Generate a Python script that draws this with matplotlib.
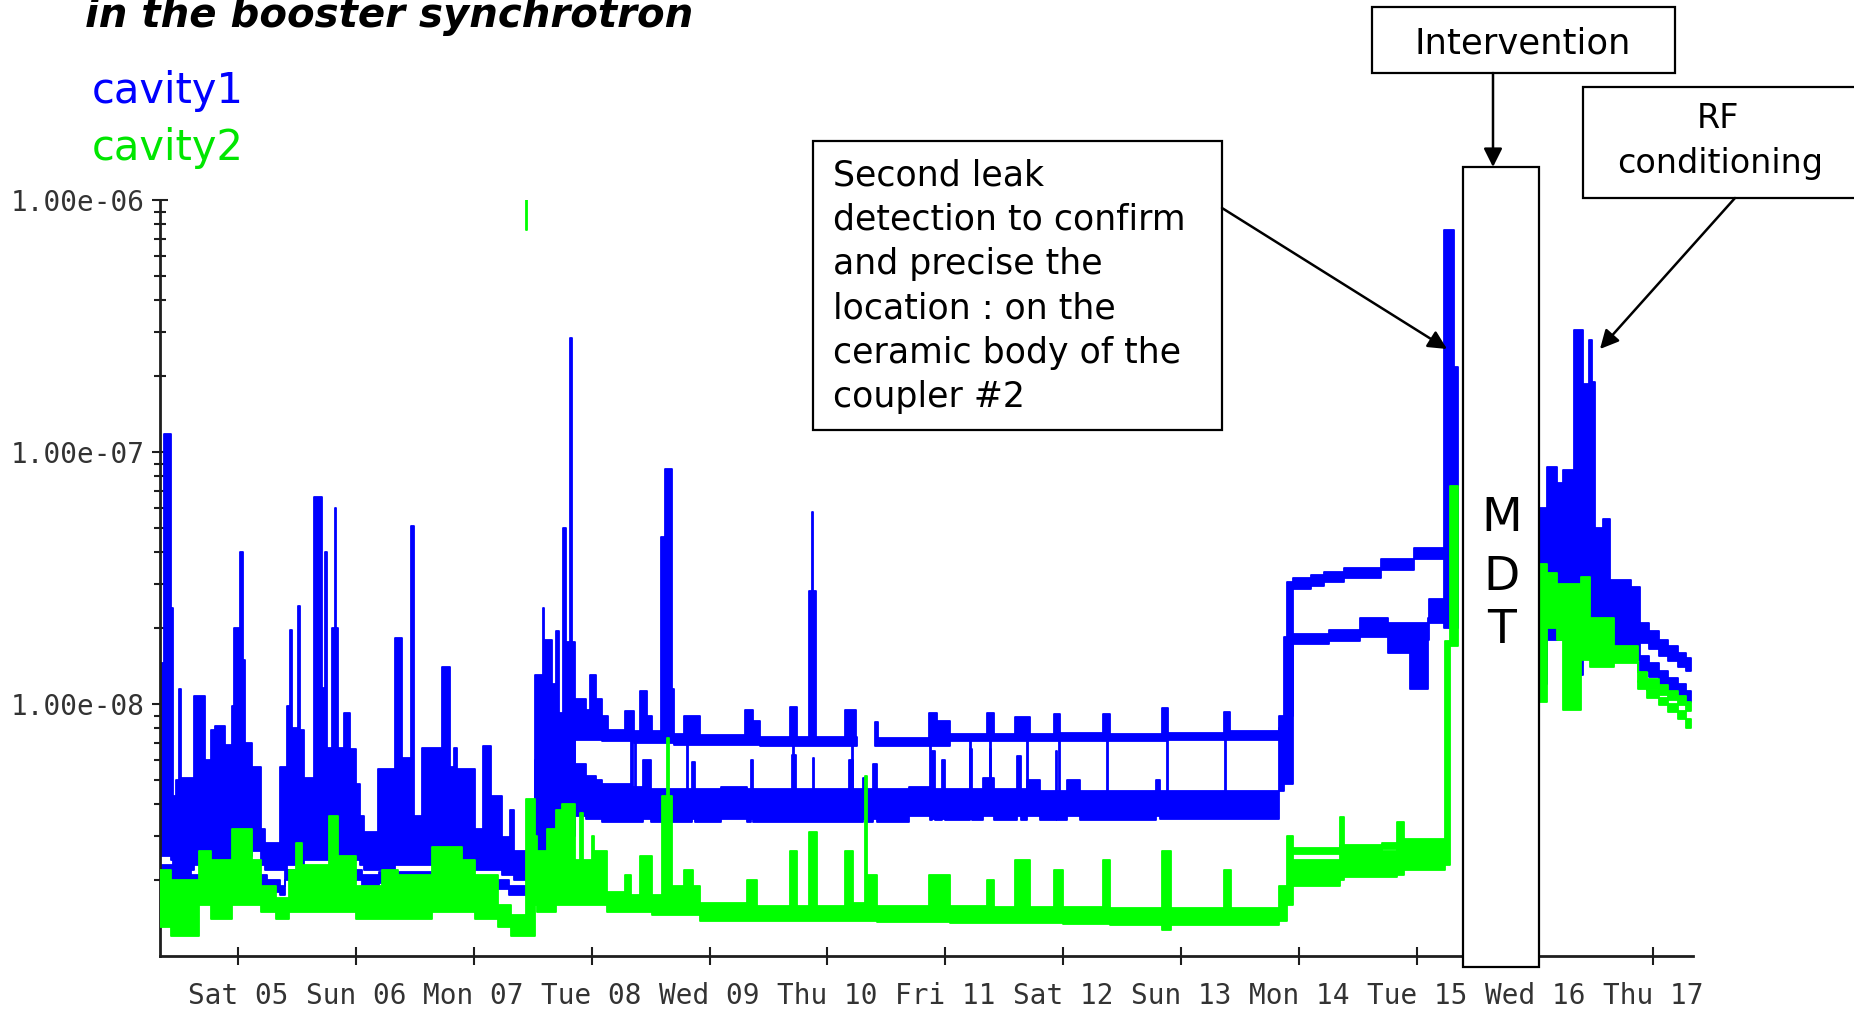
# Vacuum pressure of the booster RF cavities, one week before/after the MDT intervention

import numpy as np
import matplotlib
matplotlib.use('Agg')
import matplotlib.pyplot as plt
from matplotlib.patches import Rectangle
from matplotlib.ticker import FixedLocator, LogLocator, NullFormatter

NAN = float('nan')

# x axis: day of month, labels centred on midnight
day_ticks = [5, 6, 7, 8, 9, 10, 11, 12, 13, 14, 15, 16, 17]
day_labels = ['Sat 05', 'Sun 06', 'Mon 07', 'Tue 08', 'Wed 09', 'Thu 10', 'Fri 11',
              'Sat 12', 'Sun 13', 'Mon 14', 'Tue 15', 'Wed 16', 'Thu 17']

# pressure bands: (day, low, high), in units of 1e-9
# a row holds until the next row, a NaN row ends a stretch
cavity1_upper = [
    (4.34, 2.5, 14.5), (4.37, 2.5, 118), (4.43, 2.4, 24), (4.45, 2.3, 4.3),
    (4.475, 2.3, 5.0), (4.50, 2.3, 11.5), (4.52, 2.2, 5.1), (4.63, 2.3, 10.8),
    (4.72, 2.3, 6.0), (4.77, 2.3, 7.9), (4.81, 2.3, 8.2), (4.89, 2.3, 6.9),
    (4.95, 2.4, 9.8), (4.97, 2.5, 20), (5.02, 2.5, 40), (5.04, 2.5, 15),
    (5.06, 2.5, 7.0), (5.12, 2.6, 5.6), (5.20, 2.3, 3.2), (5.23, 2.2, 2.8),
    (5.36, 2.2, 5.6), (5.42, 2.3, 9.8), (5.44, 2.3, 19.6), (5.46, 2.3, 8.0),
    (5.51, 2.3, 24.4), (5.53, 2.3, 7.9), (5.56, 2.4, 5.1), (5.65, 2.4, 66),
    (5.71, 2.4, 11.6), (5.74, 2.4, 40), (5.76, 2.4, 6.7), (5.80, 2.4, 20),
    (5.82, 2.4, 60), (5.83, 2.4, 20), (5.85, 2.4, 6.7), (5.90, 2.4, 9.2),
    (5.95, 2.4, 6.6), (6.00, 2.4, 4.8), (6.04, 2.3, 3.6), (6.07, 2.2, 3.1),
    (6.19, 2.2, 5.5), (6.33, 2.3, 18.3), (6.39, 2.3, 6.1), (6.47, 2.3, 51),
    (6.49, 2.3, 3.6), (6.56, 2.3, 6.7), (6.73, 2.3, 14), (6.80, 2.3, 5.6),
    (6.83, 2.3, 6.7), (6.86, 2.3, 5.5), (7.01, 2.2, 3.2), (7.08, 2.2, 6.8),
    (7.15, 2.2, 4.3), (7.24, 2.1, 2.96), (7.31, 2.1, 3.8), (7.34, 2.0, 2.6),
    (7.44, 2.0, 2.4), (7.52, 2.5, 13), (7.59, 2.5, 24), (7.60, 2.5, 18),
    (7.66, 2.5, 12), (7.70, 3.2, 19.5), (7.72, 3.2, 9.2), (7.76, 3.2, 50),
    (7.78, 3.2, 17.7), (7.82, 3.2, 283), (7.835, 3.2, 17.7), (7.86, 7.2, 10.5),
    (7.95, 7.2, 9.5), (7.99, 7.2, 13), (8.04, 7.2, 10.5), (8.09, 7.1, 9.0),
    (8.14, 7.1, 7.9), (8.28, 7.1, 9.4), (8.36, 7.0, 7.8), (8.37, 4.5, 7.8),
    (8.38, 7.0, 7.8), (8.41, 7.0, 11.3), (8.47, 7.0, 9.0), (8.51, 7.0, 7.8),
    (8.59, 7.0, 46), (8.62, 7.0, 86), (8.68, 7.0, 11.5), (8.70, 6.9, 7.6),
    (8.78, 6.9, 9.0), (8.81, 4.6, 9.0), (8.82, 6.9, 9.0), (8.92, 6.9, 7.5),
    (9.30, 6.9, 9.5), (9.37, 6.9, 8.6), (9.43, 6.8, 7.4), (9.68, 6.8, 9.7),
    (9.71, 4.5, 9.7), (9.72, 6.8, 9.7), (9.74, 6.8, 7.4), (9.84, 6.8, 28),
    (9.87, 6.8, 58), (9.88, 6.8, 28), (9.90, 6.8, 7.4), (10.15, 6.8, 9.5),
    (10.21, 4.5, 9.5), (10.22, 6.8, 9.5), (10.24, 6.8, 7.4), (10.25, NAN, NAN),
    (10.40, 6.8, 8.5), (10.43, 6.8, 7.3), (10.86, 6.8, 9.2), (10.87, 4.4, 9.2),
    (10.88, 6.8, 9.2), (10.93, 6.8, 8.6), (11.04, 7.1, 7.6), (11.21, 4.4, 7.6),
    (11.22, 7.1, 7.6), (11.35, 7.1, 9.2), (11.38, 4.4, 9.2), (11.39, 7.1, 9.2),
    (11.41, 7.1, 7.6), (11.59, 7.1, 8.9), (11.69, 4.4, 8.9), (11.70, 7.1, 8.9),
    (11.72, 7.1, 7.6), (11.92, 7.1, 9.1), (11.96, 4.4, 9.1), (11.97, 7.1, 7.7),
    (12.34, 7.1, 9.1), (12.37, 4.4, 9.1), (12.38, 7.1, 9.1), (12.40, 7.1, 7.6),
    (12.84, 7.1, 9.6), (12.88, 4.4, 9.6), (12.89, 7.2, 7.7), (13.36, 7.2, 9.3),
    (13.37, 4.4, 9.3), (13.38, 7.2, 9.3), (13.41, 7.2, 7.8), (13.83, 7.8, 9.0),
    (13.90, 9.0, 30.5), (13.95, 28.5, 31.5), (14.10, 29.5, 32.5), (14.21, 30.5, 33.5),
    (14.38, 31.5, 34.5), (14.69, 34, 37.5), (14.97, 37.5, 41.5), (15.23, 20, 760),
    (15.31, 20, 217), (15.35, NAN, NAN),
    (16.03, 15, 60), (16.10, 18, 87), (16.19, 20, 75), (16.24, 20, 85),
    (16.33, 20, 306), (16.41, 22, 186), (16.455, 22, 279), (16.48, 22, 190),
    (16.51, 20, 50), (16.58, 20, 54), (16.64, 19, 31), (16.81, 18, 29),
    (16.89, 17.5, 21), (16.97, 16.5, 19.5), (17.05, 15.5, 18), (17.13, 14.8, 17),
    (17.21, 14, 16), (17.28, 13.5, 15.2), (17.32, NAN, NAN),
]

cavity1_lower = [
    (4.34, 2.0, 2.3), (4.60, 1.9, 2.1), (5.25, 1.8, 2.0), (5.36, 1.75, 1.9),
    (5.40, 2.0, 2.2), (6.05, 1.9, 2.1), (6.20, 1.95, 2.15), (6.90, 1.9, 2.05),
    (7.05, 1.85, 2.0), (7.30, 1.75, 1.9), (7.45, 1.7, 1.85), (7.52, 2.4, 6.0),
    (7.70, 3.0, 8.0), (7.86, 3.6, 5.8), (7.95, 3.5, 5.2), (8.04, 3.5, 5.0),
    (8.09, 3.4, 4.8), (8.33, 3.4, 7.3), (8.35, 3.4, 4.7), (8.44, 3.5, 6.0),
    (8.50, 3.4, 4.6), (8.85, 3.5, 5.9), (8.88, 3.4, 4.6), (9.10, 3.5, 4.7),
    (9.32, 3.4, 4.6), (9.35, 3.5, 6.0), (9.37, 3.4, 4.6), (9.70, 3.4, 6.3),
    (9.73, 3.4, 4.6), (9.88, 3.4, 6.1), (9.89, 3.4, 4.6), (10.18, 3.4, 6.0),
    (10.22, 3.4, 4.6), (10.30, 3.5, 5.1), (10.33, 3.4, 4.6), (10.39, 3.5, 5.8),
    (10.42, 3.4, 4.6), (10.69, 3.6, 4.7), (10.87, 3.45, 4.6), (10.89, 3.5, 6.5),
    (10.91, 3.45, 4.6), (10.97, 3.5, 6.0), (11.00, 3.45, 4.6), (11.21, 3.5, 6.6),
    (11.23, 3.45, 4.6), (11.32, 3.6, 5.1), (11.38, 3.6, 6.6), (11.39, 3.6, 5.1),
    (11.41, 3.45, 4.6), (11.61, 3.6, 6.2), (11.64, 3.45, 4.6), (11.69, 3.6, 5.0),
    (11.80, 3.45, 4.5), (11.94, 3.6, 6.5), (11.95, 3.45, 4.5), (12.03, 3.6, 5.0),
    (12.14, 3.45, 4.5), (12.79, 3.6, 5.0), (12.82, 3.5, 4.5), (13.83, 4.5, 8.0),
    (13.87, 4.8, 18.4), (13.95, 17.3, 19.0), (14.25, 17.8, 19.6), (14.52, 18.5, 22),
    (14.75, 16, 21), (14.94, 11.5, 21), (15.09, 18, 22), (15.10, 21, 26),
    (15.23, NAN, NAN),
    (16.03, 12, 40), (16.10, 20, 45), (16.19, 18, 42), (16.33, 13, 30),
    (16.41, 16, 28), (16.50, 17, 24), (16.60, 16, 22), (16.81, 15, 20),
    (16.89, 13.5, 15.5), (16.97, 12.8, 14.5), (17.05, 12, 13.5), (17.13, 11.3, 12.7),
    (17.21, 10.7, 12), (17.28, 10.2, 11.3), (17.32, NAN, NAN),
]

cavity2_main = [
    (4.34, 1.3, 2.2), (4.43, 1.2, 2.0), (4.67, 1.6, 2.6), (4.77, 1.4, 2.4),
    (4.95, 1.6, 3.2), (5.12, 1.6, 2.4), (5.20, 1.5, 1.9), (5.32, 1.4, 1.7),
    (5.43, 1.5, 2.2), (5.49, 1.5, 2.8), (5.54, 1.5, 2.3), (5.77, 1.5, 3.6),
    (5.85, 1.5, 2.5), (6.00, 1.4, 1.9), (6.22, 1.4, 2.2), (6.36, 1.4, 2.1),
    (6.65, 1.5, 2.7), (6.90, 1.5, 2.4), (7.01, 1.4, 2.1), (7.21, 1.3, 1.6),
    (7.32, 1.2, 1.45), (7.44, 1.2, 4.2), (7.52, 1.6, 3.0), (7.54, 1.5, 2.6),
    (7.62, 1.5, 3.2), (7.70, 1.6, 3.8), (7.75, 1.6, 4.0), (7.86, 1.6, 2.4),
    (7.90, 1.6, 3.7), (7.93, 1.6, 2.4), (8.00, 1.6, 3.0), (8.02, 1.6, 2.6),
    (8.13, 1.5, 1.8), (8.28, 1.5, 2.1), (8.33, 1.5, 1.75), (8.41, 1.5, 2.5),
    (8.51, 1.45, 1.75), (8.60, 1.45, 4.3), (8.64, 1.45, 7.3), (8.655, 1.45, 4.3),
    (8.68, 1.45, 1.9), (8.78, 1.45, 2.2), (8.86, 1.45, 1.9), (8.92, 1.38, 1.62),
    (9.32, 1.38, 2.0), (9.40, 1.38, 1.58), (9.68, 1.38, 2.6), (9.74, 1.38, 1.58),
    (9.84, 1.38, 3.1), (9.91, 1.38, 1.58), (10.15, 1.38, 2.6), (10.22, 1.38, 1.62),
    (10.32, 1.38, 5.2), (10.335, 1.38, 1.62), (10.34, 1.38, 2.1), (10.42, 1.37, 1.58),
    (10.86, 1.37, 2.1), (11.04, 1.35, 1.58), (11.35, 1.35, 2.0), (11.41, 1.35, 1.57),
    (11.59, 1.35, 2.4), (11.72, 1.35, 1.57), (11.92, 1.35, 2.2), (12.00, 1.34, 1.56),
    (12.34, 1.34, 2.4), (12.40, 1.33, 1.55), (12.84, 1.27, 2.6), (12.91, 1.33, 1.55),
    (13.36, 1.33, 2.2), (13.42, 1.33, 1.55), (13.83, 1.38, 1.9), (13.90, 1.6, 3.0),
    (13.95, 1.9, 2.4), (14.35, 2.0, 3.55), (14.38, 2.05, 2.6), (14.83, 2.1, 3.4),
    (14.89, 2.2, 2.9), (15.24, 2.3, 17.8), (15.28, 17, 73), (15.35, NAN, NAN),
    (16.03, 10.2, 36), (16.10, 20, 33), (16.19, 18, 30), (16.24, 9.5, 30),
    (16.39, 15, 32), (16.47, 14, 22), (16.67, 14.5, 17), (16.87, 12.2, 13.4),
    (16.95, 11.5, 12.6), (17.05, 10.9, 11.9), (17.13, 10.4, 11.3), (17.21, 9.9, 10.8),
    (17.28, 9.4, 10.2), (17.32, NAN, NAN),
]

cavity2_second = [
    (13.93, 2.55, 2.68), (14.35, 2.6, 2.75), (14.70, 2.65, 2.8), (15.24, NAN, NAN),
    (16.87, 11.5, 12.3), (16.95, 10.6, 11.4), (17.05, 9.9, 10.6), (17.13, 9.3, 10.0),
    (17.21, 8.7, 9.4), (17.28, 8.0, 8.7), (17.32, NAN, NAN),
]

cavity2_glitch = [(7.445, 760, 1000), (7.452, NAN, NAN)]

BLUE = '#0000ff'
GREEN = '#00ff00'
AXIS = '#1e1e1e'
LABEL = '#333333'


def to_steps(rows):
    t = np.array([r[0] for r in rows])
    lo = np.array([r[1] for r in rows]) * 1e-9
    hi = np.array([r[2] for r in rows]) * 1e-9
    return np.repeat(t, 2)[1:], np.repeat(lo, 2)[:-1], np.repeat(hi, 2)[:-1]


def band(ax, rows, color, z):
    x, lo, hi = to_steps(rows)
    ax.fill_between(x, lo, hi, color=color, lw=1.3, edgecolor=color, zorder=z)


fig = plt.figure(figsize=(18.54, 10.11), dpi=100)
ax = fig.add_axes((160 / 1854, 1 - 956 / 1011, 1533 / 1854, 756 / 1011))

band(ax, cavity1_lower, BLUE, 2)
band(ax, cavity1_upper, BLUE, 2)
band(ax, cavity2_main, GREEN, 3)
band(ax, cavity2_second, GREEN, 3)
band(ax, cavity2_glitch, GREEN, 3)

ax.set_yscale('log')
ax.set_ylim(1e-9, 1e-6)
ax.set_xlim(4.34, 17.34)

for side in ('top', 'right'):
    ax.spines[side].set_visible(False)
for side in ('left', 'bottom'):
    ax.spines[side].set_color(AXIS)
    ax.spines[side].set_linewidth(2)

ax.set_xticks(day_ticks)
ax.set_xticklabels(day_labels, fontfamily='DejaVu Sans Mono', fontsize=20, color=LABEL)
ax.tick_params(axis='x', direction='inout', length=13, width=1.5, color=AXIS, pad=12)

ax.yaxis.set_major_locator(FixedLocator([1e-8, 1e-7, 1e-6]))
ax.set_yticklabels(['1.00e-08', '1.00e-07', '1.00e-06'], fontfamily='DejaVu Sans Mono',
                   fontsize=20, color=LABEL)
ax.yaxis.set_minor_locator(LogLocator(base=10, subs=np.arange(2, 10)))
ax.yaxis.set_minor_formatter(NullFormatter())
ax.tick_params(axis='y', which='major', direction='inout', length=12, width=1.5,
               color=AXIS, pad=5)
ax.tick_params(axis='y', which='minor', direction='inout', length=8, width=1.5, color=AXIS)

# overlay in pixel units for the hand-drawn annotations
ov = fig.add_axes((0, 0, 1, 1), zorder=5)
ov.set_xlim(0, 1854)
ov.set_ylim(1011, 0)
ov.axis('off')
ov.patch.set_visible(False)

TEXT_FONT = 'DejaVu Sans'
box_kw = dict(facecolor='white', edgecolor='black', lw=1.6)
arrow_kw = dict(arrowstyle='-|>', mutation_scale=28, lw=1.8, color='black',
                shrinkA=0, shrinkB=0)

ov.text(85, 27, 'in the booster synchrotron', fontsize=29, fontweight='bold',
        fontstyle='italic', family=TEXT_FONT, va='baseline', ha='left')
ov.text(92, 103, 'cavity1', fontsize=30, color=BLUE, family=TEXT_FONT, va='baseline')
ov.text(92, 160, 'cavity2', fontsize=30, color='#00e600', family=TEXT_FONT, va='baseline')

# second leak detection note
ov.add_patch(Rectangle((813, 141), 409, 289, **box_kw))
note = ['Second leak', 'detection to confirm', 'and precise the',
        'location : on the', 'ceramic body of the', 'coupler #2']
for i, line in enumerate(note):
    ov.text(833, 185 + i * 44.4, line, fontsize=25, family=TEXT_FONT, va='baseline')
ov.annotate('', xy=(1447, 349), xytext=(1222, 208), arrowprops=arrow_kw)

# intervention
ov.add_patch(Rectangle((1372, 7), 303, 66, **box_kw))
ov.text(1523, 53, 'Intervention', fontsize=25.5, family=TEXT_FONT, ha='center', va='baseline')
ov.annotate('', xy=(1493, 167), xytext=(1493, 73), arrowprops=arrow_kw)

ov.add_patch(Rectangle((1463, 167), 76, 800, **box_kw))
for letter, yb in zip('MDT', (531, 590, 643)):
    ov.text(1502, yb, letter, fontsize=34, family=TEXT_FONT, ha='center', va='baseline')

# RF conditioning
ov.add_patch(Rectangle((1583, 87), 290, 111, **box_kw))
ov.text(1718, 128, 'RF', fontsize=24, family=TEXT_FONT, ha='center', va='baseline')
ov.text(1720, 173, 'conditioning', fontsize=24, family=TEXT_FONT, ha='center', va='baseline')
ov.annotate('', xy=(1600, 349), xytext=(1735, 198), arrowprops=arrow_kw)

plt.savefig('out.png', dpi=100)
plt.close()
